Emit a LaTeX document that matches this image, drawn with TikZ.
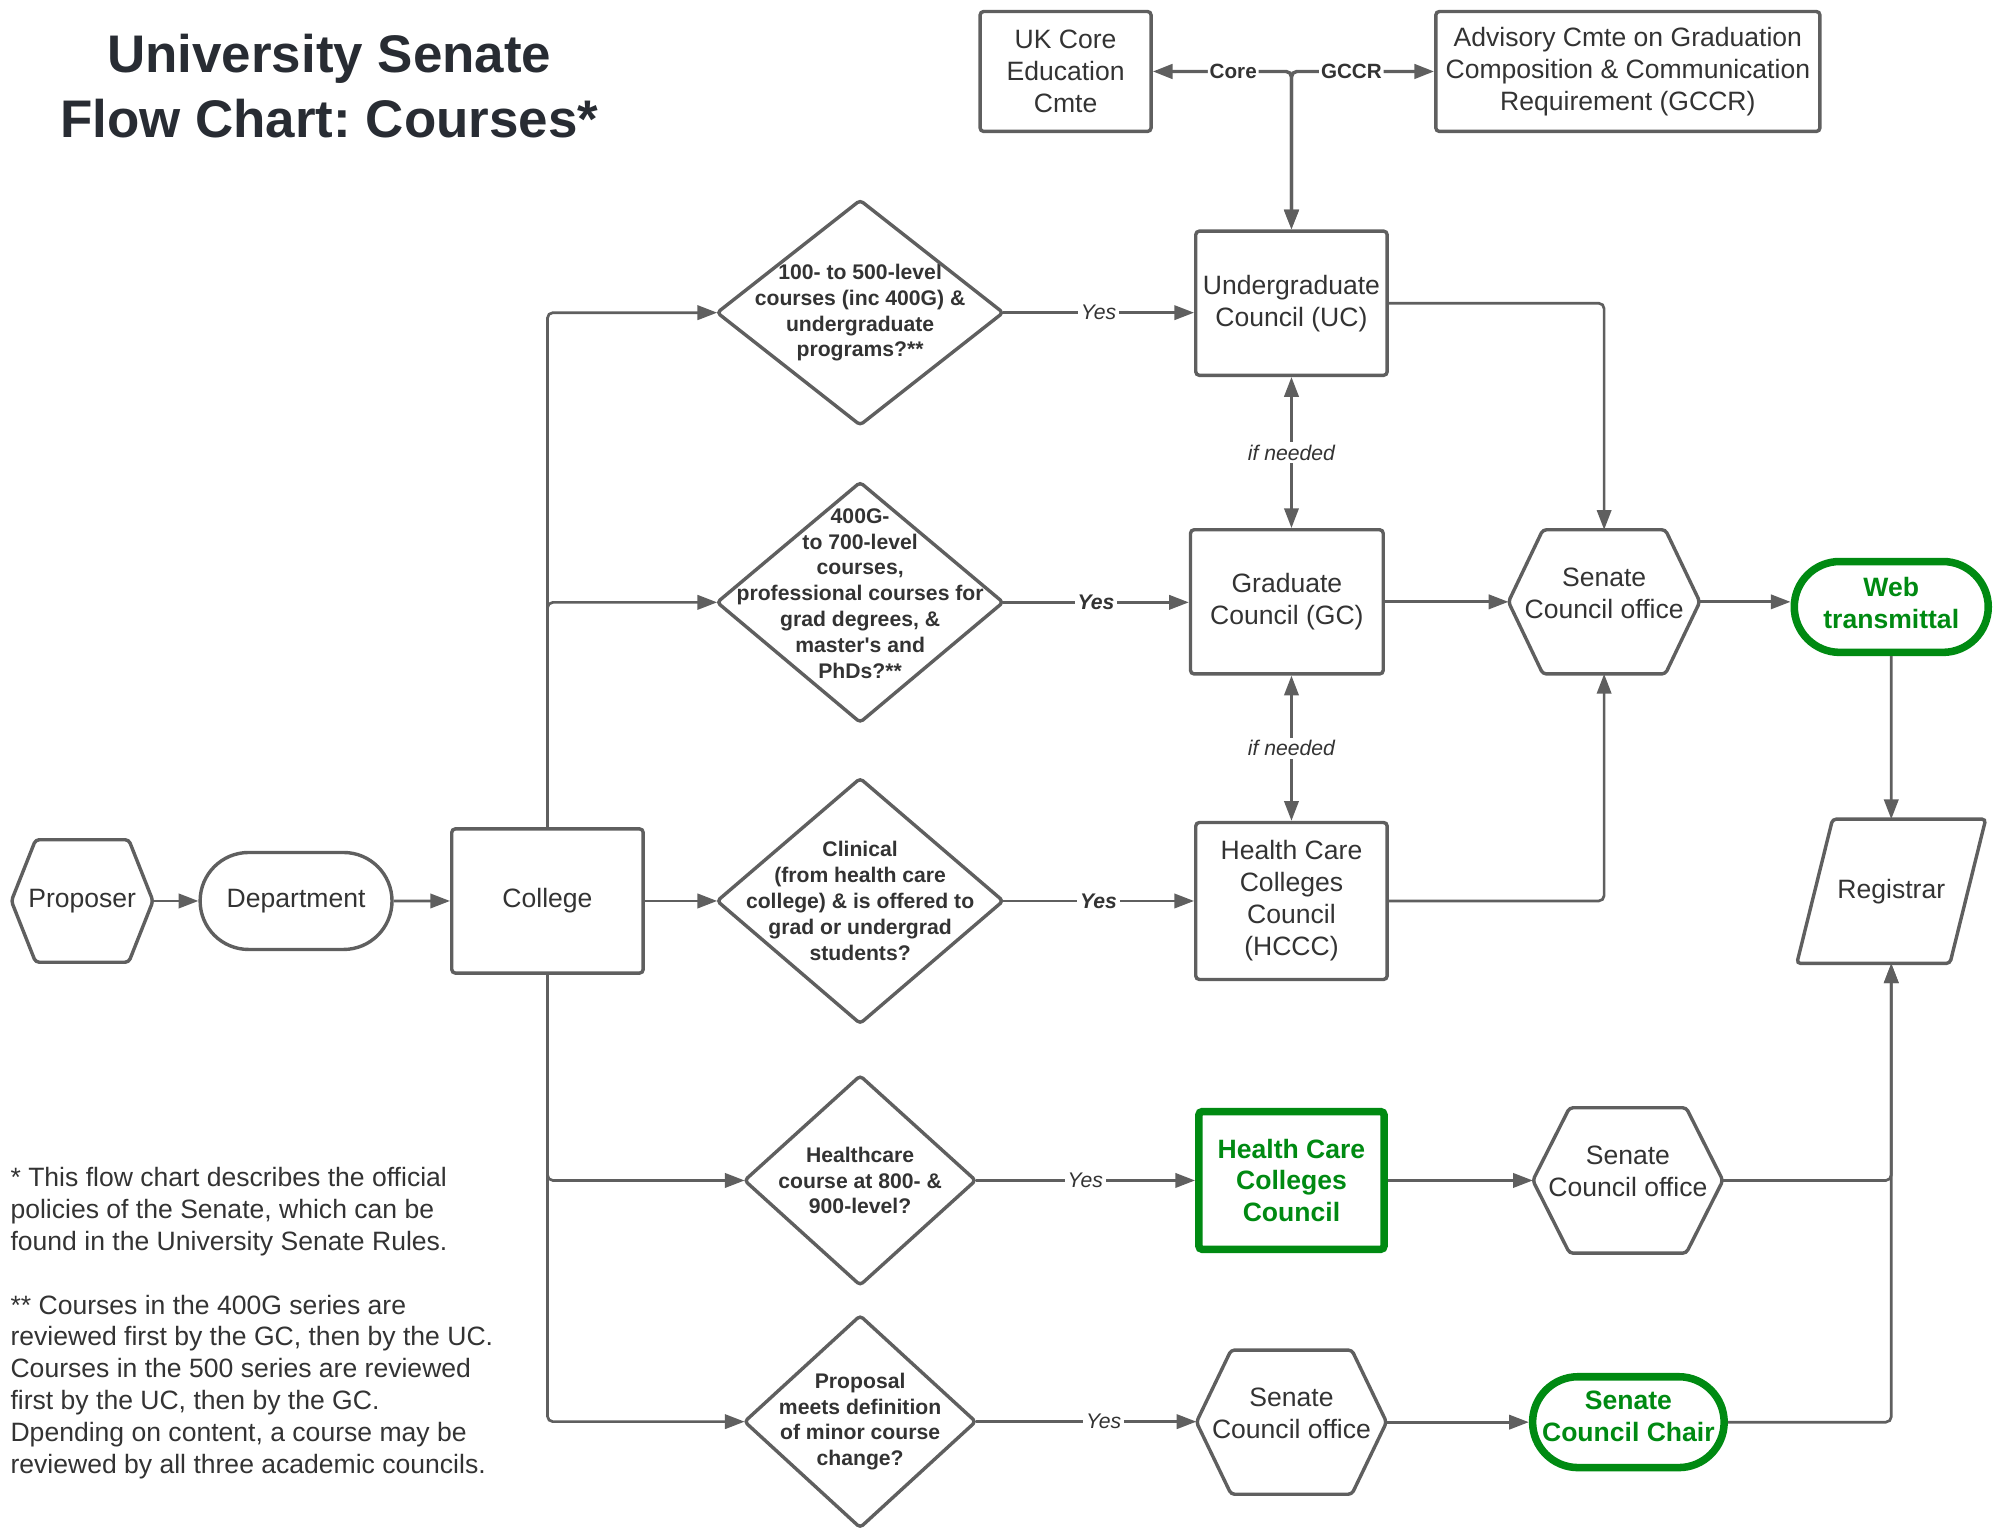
\documentclass[tikz,border=0pt]{standalone}
\usepackage{fontspec}
\setmainfont{Liberation Sans}
\usetikzlibrary{positioning}
\usetikzlibrary{shapes.misc}
\usetikzlibrary{arrows.meta}

\definecolor{linegray}{HTML}{5F5F5F}
\definecolor{txtgray}{HTML}{333333}
\definecolor{titlegray}{HTML}{282C33}
\definecolor{okgreen}{HTML}{008A12}

\tikzset{node distance=3cm, % Centre to centre, fine tuned with x/yshift per node
>={Triangle[length=11pt,width=8pt]}, % Filled arrow heads everywhere
every edge/.style={ % Straight connectors
draw=linegray,
line width=1.5pt,
->},
link/.style={ % Connectors with a bend
draw=linegray,
line width=1.5pt,
rounded corners=3pt,
->},
dims/.style 2 args={minimum width=#1, minimum height=#2},
body/.style={text=txtgray, align=center, inner sep=2pt, font=\fontsize{14.8}{17.8}\selectfont},
box/.style={body, rectangle, rounded corners=2pt, draw=linegray, line width=1.9pt},
pill/.style={body, rounded rectangle, draw=linegray, line width=1.9pt},
hexbox/.style={body, rectangle, outer sep=0pt}, % Outline comes from \hexframe
raised/.style={text depth=#1}, % Lifts the text a little
decision/.style={rectangle, outer sep=0pt, text=txtgray, align=center, % Outline comes from \diaframe
font=\fontsize{11.8}{14.4}\selectfont\bfseries},
final/.style={draw=okgreen, line width=4.2pt, text=okgreen, inner xsep=0pt, font=\fontsize{14.8}{17.8}\selectfont\bfseries},
lab/.style={fill=white, inner sep=1.5pt, text=txtgray, font=\fontsize{11.8}{14}\selectfont\itshape},
labb/.style={lab, font=\fontsize{11.8}{14}\selectfont\bfseries\itshape},
tag/.style={fill=white, inner sep=1pt, text=txtgray, font=\fontsize{11.5}{14}\selectfont\bfseries}}

\newcommand{\hexframe}[2]{% node, slant of the side points
\draw[linegray, line width=1.9pt, rounded corners=2pt] (#1.west) -- ([xshift=#2]#1.north west) -- ([xshift=-#2]#1.north east)
-- (#1.east) -- ([xshift=-#2]#1.south east) -- ([xshift=#2]#1.south west) -- cycle;}
\newcommand{\diaframe}[1]{%
\draw[linegray, line width=1.9pt, rounded corners=2pt] (#1.west) -- (#1.north) -- (#1.east) -- (#1.south) -- cycle;}
\newcommand{\slantframe}[2]{% node, horizontal lean
\draw[linegray, line width=1.9pt, rounded corners=2pt] (#1.south west) -- ([xshift=#2]#1.north west) -- (#1.north east)
-- ([xshift=-#2]#1.south east) -- cycle;}

\begin{document}
\frenchspacing
\begin{tikzpicture}
                \useasboundingbox (0,0) rectangle (39.2,-29.925);

                \node[text=titlegray, align=center, font=\fontsize{29.5}{36.3}\selectfont\bfseries] (title) at (6.45,-1.69) {University Senate\\Flow Chart: Courses*};

                \node[hexbox, dims={2.775cm}{2.4cm}] (proposer) at (1.61,-17.65) {Proposer};
                \node[pill, dims={3.9cm}{1.9cm}, right of = proposer, xshift=1.19cm] (dept) {Department};
                \node[box, dims={3.75cm}{2.825cm}, right of = dept, xshift=1.925cm] (college) {College};
                \node[decision, dims={5.6cm}{4.8cm}, right of = college, xshift=3.125cm] (clinical) {Clinical\\(from health care\\college) \& is offered to\\grad or undergrad\\students?};
                \node[decision, raised=10pt, dims={5.6cm}{4.7cm}, above of = clinical, yshift=2.85cm] (grad) {400G-\\to 700-level\\courses,\\professional courses for\\grad degrees, \&\\master\textquotesingle s and\\PhDs?**};
                \node[decision, dims={5.6cm}{4.4cm}, above of = grad, yshift=2.675cm] (ugrad) {100- to 500-level\\courses (inc 400G) \&\\undergraduate\\programs?**};
                \node[decision, dims={4.525cm}{4.1cm}, below of = clinical, yshift=-2.475cm] (hc) {Healthcare\\course at 800- \&\\900-level?};
                \node[decision, dims={4.525cm}{4.15cm}, below of = hc, yshift=-1.725cm] (minor) {Proposal\\meets definition\\of minor course\\change?};

                \node[box, dims={3.75cm}{3.075cm}, right of = clinical, xshift=5.45cm] (hccc) {Health Care\\Colleges\\Council\\(HCCC)};
                \node[box, dims={3.775cm}{2.825cm}, above of = hccc, yshift=2.86cm, xshift=-0.09cm] (gc) {Graduate\\Council (GC)};
                \node[box, dims={3.75cm}{2.825cm}, above of = gc, yshift=2.85cm, xshift=0.09cm] (uc) {Undergraduate\\Council (UC)};
                \node[box, final, dims={3.63cm}{2.7cm}, below of = hccc, yshift=-2.475cm] (hcc) {Health Care\\Colleges\\Council};
                \node[hexbox, raised=10pt, dims={3.725cm}{2.825cm}, below of = hcc, yshift=-1.735cm] (minoff) {Senate\\Council office};

                \node[hexbox, raised=10pt, dims={3.75cm}{2.825cm}, right of = gc, xshift=3.215cm] (office) {Senate\\Council office};
                \node[pill, final, raised=5pt, dims={3.8cm}{1.78cm}, right of = office, xshift=2.625cm, yshift=-0.1cm] (web) {Web\\transmittal};
                \node[hexbox, dims={3.7cm}{2.825cm}, below of = web, yshift=-2.57cm] (registrar) {Registrar};
                \node[hexbox, raised=10pt, dims={3.725cm}{2.85cm}, right of = hcc, xshift=3.59cm] (hcoff) {Senate\\Council office};
                \node[pill, final, raised=7pt, inner xsep=-1.8pt, dims={3.65cm}{1.78cm}, right of = minoff, xshift=3.6cm] (chair) {Senate\\Council Chair};

                \node[box, dims={3.35cm}{2.35cm}] (core) at (20.875,-1.4) {UK Core\\Education\\Cmte};
                \node[box, dims={7.525cm}{2.35cm}, right of = core, xshift=8.015cm] (gccr) {Advisory Cmte on Graduation\\Composition \& Communication\\Requirement (GCCR)};

                \node[body, align=left, anchor=west, inner sep=0pt] (notes) at (0.2,-25.92) {* This flow chart describes the official\\policies of the Senate, which can be\\found in the University Senate Rules.\\[17.8pt]** Courses in the 400G series are\\reviewed first by the GC, then by the UC.\\Courses in the 500 series are reviewed\\first by the UC, then by the GC.\\Dpending on content, a course may be\\reviewed by all three academic councils.};

                \hexframe{proposer}{0.475cm}
                \hexframe{office}{0.675cm}
                \hexframe{hcoff}{0.72cm}
                \hexframe{minoff}{0.68cm}
                \slantframe{registrar}{0.7cm}
                \diaframe{ugrad}
                \diaframe{grad}
                \diaframe{clinical}
                \diaframe{hc}
                \diaframe{minor}

                \draw (proposer) edge (dept)
                (dept) edge (college)
                (college) edge (clinical)
                (ugrad.east) edge node[lab]{Yes} (ugrad.east -| uc.west)
                (grad.east) edge node[labb]{Yes} (grad.east -| gc.west)
                (clinical.east) edge node[labb]{Yes} (clinical.east -| hccc.west)
                (hc.east) edge node[lab]{Yes} (hc.east -| hcc.west)
                (minor.east) edge node[lab, pos=0.58]{Yes} (minor.east -| minoff.west)
                (uc.south) edge[<->] node[lab]{if needed} (uc.south |- gc.north)
                (hccc.north) edge[<->] node[lab]{if needed} (hccc.north |- gc.south)
                (gc) edge (office)
                (office.east) edge (office.east -| web.west)
                (web) edge (registrar)
                (hcc) edge (hcoff)
                (minoff) edge (chair);

                \draw[link] (college.north) |- (ugrad.west);
                \draw[link] (college.north) |- (grad.west);
                \draw[link] (college.south) |- (hc.west);
                \draw[link] (college.south) |- (minor.west);
                \draw[link] (uc.east) -| (office.north);
                \draw[link] (hccc.east) -| (office.south);
                \draw[link] (hcoff.east) -| (registrar.south);
                \draw[link] (chair.east) -| (registrar.south);
                \draw[link, <->, line width=1.9pt] (uc.north) |- node[pos=0.71, tag]{Core} (core.east);
                \draw[link, <->, line width=1.9pt] (uc.north) |- node[pos=0.71, tag]{GCCR} (gccr.west);

\end{tikzpicture}
\end{document}
